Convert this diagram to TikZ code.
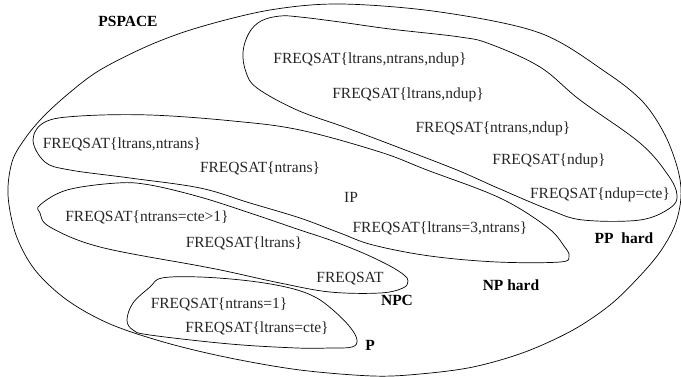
\documentclass[tikz,border=0pt]{standalone}
\usepackage{fontspec}
\setmainfont{Liberation Serif}
\begin{document}
\begin{tikzpicture}[x=1pt,y=-1pt,
  region/.style={draw=black, line width=0.7pt},
  member/.style={text=black!85, font=\fontsize{15.5}{18}\selectfont, inner sep=0pt, anchor=base},
  classname/.style={text=black, font=\fontsize{15.5}{18}\selectfont\bfseries, inner sep=0pt, anchor=base}]
\useasboundingbox (0,0) rectangle (681,376);

% PSPACE
\draw[region] plot[smooth cycle, tension=0.55] coordinates {
  (8,195) (12,162) (24,140) (42,118) (68,94) (100,70) (150,45) (200,27)
  (270,10) (341,4) (440,12) (540,33) (607,73) (643,102) (665,135)
  (678,170) (681,197) (675,225) (660,252) (638,278) (610,305) (573,330)
  (525,352) (473,367) (420,374) (373,376) (300,370) (230,358) (167,343)
  (110,324) (67,300) (35,270) (16,235)};

% PP hard
\draw[region] plot[smooth cycle, tension=0.6] coordinates {
  (243,52) (249,33) (261,21) (280,16) (300,17) (340,22) (390,29) (460,37)
  (490,44) (540,67) (580,100) (640,143) (668,175) (677,195) (670,208)
  (640,220) (583,220) (550,210) (500,189) (457,170) (400,148) (347,128)
  (297,110) (257,88) (246,72)};

% NP hard (IP region)
\draw[region] plot[smooth cycle, tension=0.6] coordinates {
  (33,140) (45,122) (80,116) (150,115) (233,121) (300,130) (380,152)
  (427,170) (500,198) (547,227) (564,246) (569,256) (560,262) (497,262)
  (430,256) (373,245) (340,233) (300,218) (250,203) (200,188) (130,178)
  (70,170) (45,162)};

% NPC
\draw[region] plot[smooth cycle, tension=0.6] coordinates {
  (40,205) (67,190) (117,183) (150,185) (200,197) (250,213) (300,230)
  (330,240) (363,253) (390,266) (404,275) (408,281) (403,288) (380,293)
  (330,292) (280,283) (230,272) (200,266) (100,247) (50,227) (40,213)};

% P
\draw[region] plot[smooth cycle, tension=0.6] coordinates {
  (127,320) (133,303) (150,287) (162,278) (200,277) (250,281) (290,288)
  (315,297) (333,310) (350,327) (357,340) (352,347) (330,348) (297,348)
  (230,344) (150,335) (133,330)};

% class names
\node[classname] (pspace) at (128,26) {PSPACE};
\node[classname] (pphard) at (624,243) {PP~~hard};
\node[classname] (nphard) at (511,290) {NP hard};
\node[classname] (npc) at (397,305) {NPC};
\node[classname] (p) at (370,350) {P};
\node[member] (ip) at (351,202) {IP};

% problems
\node[member] (f1) at (370,63) {FREQSAT\{ltrans,ntrans,ndup\}};
\node[member] (f2) at (408,98) {FREQSAT\{ltrans,ndup\}};
\node[member] (f3) at (493,132) {FREQSAT\{ntrans,ndup\}};
\node[member] (f4) at (549,164) {FREQSAT\{ndup\}};
\node[member] (f5) at (600,198) {FREQSAT\{ndup=cte\}};
\node[member] (f6) at (122,148) {FREQSAT\{ltrans,ntrans\}};
\node[member] (f7) at (260,172) {FREQSAT\{ntrans\}};
\node[member] (f8) at (440,232) {FREQSAT\{ltrans=3,ntrans\}};
\node[member] (f9) at (147,221) {FREQSAT\{ntrans=cte>1\}};
\node[member] (f10) at (244,247) {FREQSAT\{ltrans\}};
\node[member] (f11) at (350,282) {FREQSAT};
\node[member] (f12) at (219,308) {FREQSAT\{ntrans=1\}};
\node[member] (f13) at (257,332) {FREQSAT\{ltrans=cte\}};
\end{tikzpicture}
\end{document}
